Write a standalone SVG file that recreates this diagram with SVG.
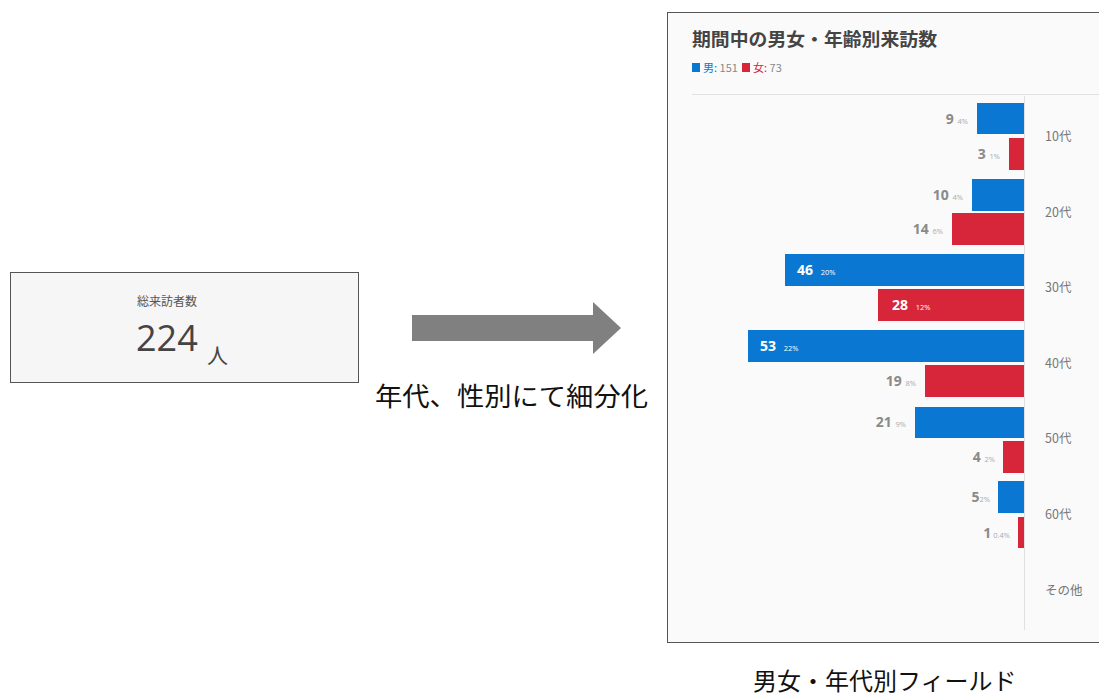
<svg xmlns="http://www.w3.org/2000/svg" width="1099" height="697" viewBox="0 0 1099 697">
<style>
.jp{font-family:"Noto Sans CJK JP","Noto Sans",sans-serif}
.num{font-family:"Open Sans","Noto Sans CJK JP",sans-serif;font-weight:bold;font-size:14px;fill:#8a8a8a;text-anchor:end}
.pct{font-size:7.5px;font-weight:normal;fill:#aaa}
.inum{font-family:"Open Sans","Noto Sans CJK JP",sans-serif;font-weight:bold;font-size:14px;fill:#fff}
.ipct{font-size:7.5px;font-weight:normal;fill:#fff}
.m{fill:#0a78d2}
.f{fill:#d7253a}
.age{font-family:"Noto Sans CJK JP",sans-serif;font-size:12.5px;fill:#777}
</style>
<rect width="1099" height="697" fill="#fff"/>
<g id="total-box">
<rect x="10.5" y="272.5" width="348" height="110" fill="#f6f6f6" stroke="#555" stroke-width="1"/>
<text x="137" y="306" class="jp" font-size="12" fill="#555">総来訪者数</text>
<text x="136" y="351" font-family="Open Sans,Noto Sans,sans-serif" font-size="36" fill="#444">224</text>
<text x="207" y="363" class="jp" font-size="21" fill="#444">人</text>
</g>
<g id="connectors">
<polygon points="412,315 593,315 593,302 621,328 593,354 593,341 412,341" fill="#808080"/>
<text x="375" y="406" class="jp" font-size="26" fill="#111" textLength="273" lengthAdjust="spacingAndGlyphs">年代、性別にて細分化</text>
</g>
<g id="chart-panel">
<rect x="667.5" y="12.5" width="440" height="630" fill="#fafafa" stroke="#555" stroke-width="1"/>
<text x="692" y="46" class="jp" font-size="18" font-weight="bold" fill="#444" textLength="245" lengthAdjust="spacingAndGlyphs">期間中の男女・年齢別来訪数</text>
<rect x="692" y="63" width="8" height="9" class="m"/>
<text x="703" y="72" class="jp" font-size="11" fill="#0a78d2">男: <tspan fill="#888">151</tspan></text>
<rect x="742" y="63" width="8" height="9" class="f"/>
<text x="753" y="72" class="jp" font-size="11" fill="#d7253a">女: <tspan fill="#888">73</tspan></text>
<line x1="692" y1="94.5" x2="1099" y2="94.5" stroke="#e2e2e2" stroke-width="1"/>
<line x1="1024.5" y1="96" x2="1024.5" y2="630" stroke="#e0e0e0" stroke-width="1"/>
<!-- 10代 -->
<rect x="977" y="103" width="47" height="31" class="m"/>
<rect x="1009" y="138" width="15" height="32" class="f"/>
<text x="968" y="124" class="num">9 <tspan class="pct">4%</tspan></text>
<text x="1000" y="159" class="num">3 <tspan class="pct">1%</tspan></text>
<text x="1045" y="141" class="age">10代</text>
<!-- 20代 -->
<rect x="972" y="179" width="52" height="32" class="m"/>
<rect x="952" y="213" width="72" height="32" class="f"/>
<text x="963" y="200" class="num">10 <tspan class="pct">4%</tspan></text>
<text x="943" y="234" class="num">14 <tspan class="pct">6%</tspan></text>
<text x="1045" y="217" class="age">20代</text>
<!-- 30代 -->
<rect x="785" y="254" width="239" height="32" class="m"/>
<rect x="878" y="289" width="146" height="32" class="f"/>
<text x="797" y="275" class="inum">46 <tspan class="ipct" dx="4">20%</tspan></text>
<text x="892" y="310" class="inum">28 <tspan class="ipct" dx="4">12%</tspan></text>
<text x="1045" y="292" class="age">30代</text>
<!-- 40代 -->
<rect x="748" y="330" width="276" height="32" class="m"/>
<rect x="925" y="365" width="99" height="32" class="f"/>
<text x="760" y="351" class="inum">53 <tspan class="ipct" dx="4">22%</tspan></text>
<text x="916" y="386" class="num">19 <tspan class="pct">8%</tspan></text>
<text x="1045" y="368" class="age">40代</text>
<!-- 50代 -->
<rect x="915" y="407" width="109" height="31" class="m"/>
<rect x="1003" y="441" width="21" height="32" class="f"/>
<text x="906" y="427" class="num">21 <tspan class="pct">9%</tspan></text>
<text x="995" y="462" class="num">4 <tspan class="pct">2%</tspan></text>
<text x="1045" y="443" class="age">50代</text>
<!-- 60代 -->
<rect x="998" y="481" width="26" height="32" class="m"/>
<rect x="1018" y="517" width="6" height="31" class="f"/>
<text x="990" y="502" class="num">5<tspan class="pct">2%</tspan></text>
<text x="1010" y="538" class="num">1<tspan class="pct" dx="2">0.4%</tspan></text>
<text x="1045" y="519" class="age">60代</text>
<text x="1045" y="595" class="age">その他</text>
</g>
<g id="caption">
<text x="753" y="690" class="jp" font-size="24" fill="#111">男女・年代別フィールド</text>
</g>
</svg>
